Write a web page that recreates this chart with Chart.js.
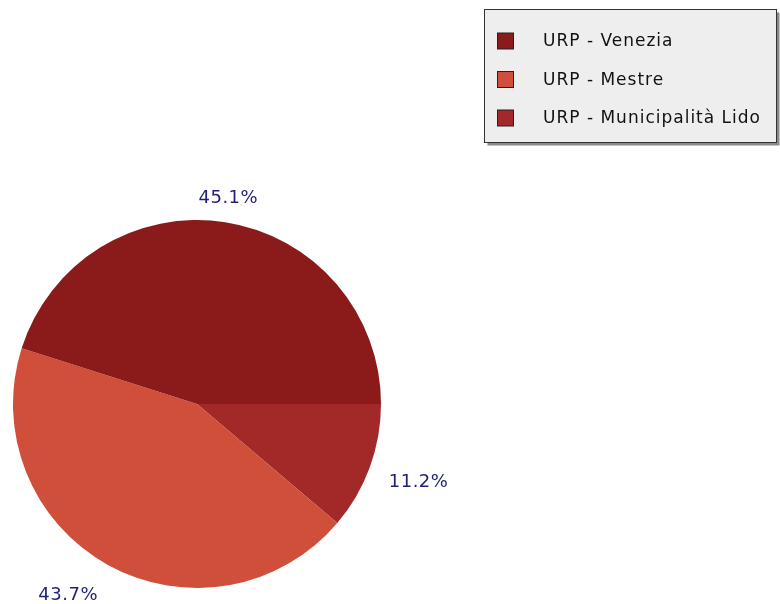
<!DOCTYPE html>
<html>
<head>
<meta charset="utf-8">
<style>
  html, body { margin: 0; padding: 0; background: #fff; }
  #wrap { width: 780px; height: 604px; position: relative; }
</style>
<script src="https://cdn.jsdelivr.net/npm/chart.js@4/dist/chart.umd.min.js"></script>
</head>
<body>
<div id="wrap"><canvas id="pie" width="780" height="604"></canvas></div>
<script>
// categories and shares (percent), in legend order
const categories = ['URP - Venezia', 'URP - Mestre', 'URP - Municipalità Lido'];
const shares = [45.1, 43.7, 11.2];
const sliceColors = ['#8b1a1a', '#cf4f3a', '#a32828'];

const labelColor = '#1f1f7a';
const fontFamily = '"DejaVu Sans", sans-serif';

// slices run counter-clockwise from 3 o'clock, so feed them reversed
// and let Chart.js draw clockwise starting at 90 degrees
const order = categories.map((_, i) => categories.length - 1 - i);

// percentage labels outside the pie
const pctLabels = {
    id: 'pctLabels',
    afterDatasetsDraw(chart) {
        const ctx = chart.ctx;
        const meta = chart.getDatasetMeta(0);
        ctx.save();
        ctx.font = '18px ' + fontFamily;
        ctx.letterSpacing = '0.5px';
        ctx.fillStyle = labelColor;
        ctx.textBaseline = 'middle';
        meta.data.forEach((arc, i) => {
            const mid = (arc.startAngle + arc.endAngle) / 2;
            const c = Math.cos(mid), s = Math.sin(mid);
            const x = arc.x + c * arc.outerRadius * 1.11;
            const y = arc.y + s * arc.outerRadius * 1.16 + 5;
            ctx.textAlign = c > 0.3 ? 'left' : (c < -0.3 ? 'right' : 'center');
            ctx.fillText(chart.data.datasets[0].data[i].toFixed(1) + '%', x, y);
        });
        ctx.restore();
    }
};

// boxed legend with drop shadow, top right
const boxLegend = {
    id: 'boxLegend',
    afterDraw(chart) {
        const ctx = chart.ctx;
        const bx = 484.5, by = 9.5, bw = 292, bh = 133;
        ctx.save();
        ctx.fillStyle = '#8a8a8a';
        ctx.fillRect(bx + 3, by + 3, bw, bh);
        ctx.fillStyle = '#eeeeee';
        ctx.fillRect(bx, by, bw, bh);
        ctx.strokeStyle = '#333';
        ctx.lineWidth = 1;
        ctx.strokeRect(bx, by, bw, bh);
        ctx.font = '17px ' + fontFamily;
        ctx.letterSpacing = '1px';
        ctx.textBaseline = 'middle';
        ctx.textAlign = 'left';
        categories.forEach((name, i) => {
            const cy = 41 + i * 38.5;
            ctx.fillStyle = sliceColors[i];
            ctx.fillRect(497.5, cy - 8, 16, 16);
            ctx.strokeStyle = '#222';
            ctx.strokeRect(497.5, cy - 8, 16, 16);
            ctx.fillStyle = '#111';
            ctx.fillText(name, 543, cy + 1);
        });
        ctx.restore();
    }
};

new Chart(document.getElementById('pie'), {
    type: 'pie',
    data: {
        labels: order.map(i => categories[i]),
        datasets: [{
            data: order.map(i => shares[i]),
            backgroundColor: order.map(i => sliceColors[i]),
            borderWidth: 0
        }]
    },
    options: {
        responsive: false,
        animation: false,
        rotation: 90,
        layout: { padding: { left: 13, right: 399, top: 220, bottom: 16 } },
        plugins: {
            legend: { display: false },
            tooltip: { enabled: false }
        }
    },
    plugins: [pctLabels, boxLegend]
});
</script>
</body>
</html>
